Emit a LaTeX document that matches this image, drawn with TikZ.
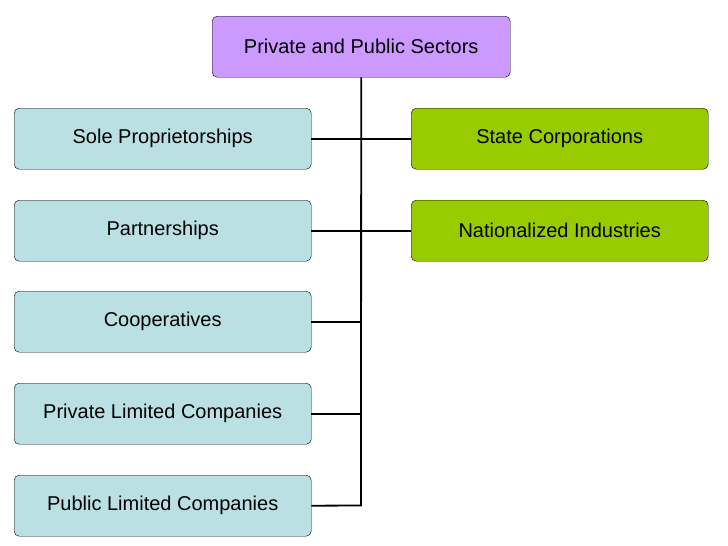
\documentclass[tikz,border=0pt]{standalone}
\usepackage{fontspec}
\setmainfont{Liberation Sans}
\definecolor{purp}{HTML}{CC99FF}
\definecolor{cyanb}{HTML}{BBE0E3}
\definecolor{grn}{HTML}{99CC00}
\begin{document}
\begin{tikzpicture}[x=1pt,y=-1pt,
 box/.style={draw=black,rounded corners=5pt,minimum width=297pt,minimum height=61pt,inner sep=0pt,font=\fontsize{20}{24}\selectfont,anchor=north west},
 conn/.style={line width=1.8pt}]
\useasboundingbox[fill=white] (0,0) rectangle (728,546);
\node[box,fill=purp,minimum width=298pt] (top) at (212,16) {Private and Public Sectors};
\node[box,fill=cyanb] (a) at (14,108) {Sole Proprietorships};
\node[box,fill=cyanb] (b) at (14,200) {Partnerships};
\node[box,fill=cyanb] (c) at (14,291) {Cooperatives};
\node[box,fill=cyanb] (d) at (14,383) {Private Limited Companies};
\node[box,fill=cyanb] (e) at (14,475) {Public Limited Companies};
\node[box,fill=grn] (f) at (411,108) {State Corporations};
\node[box,fill=grn] (g) at (411,200) {Nationalized Industries};
\coordinate (bot) at (361,505.5);
\draw[conn] (top.south) -- (bot) -- (e.east);
\foreach \n in {a,b,c,d} \draw[conn] (\n.east) -- (\n.east -| bot);
\foreach \n in {f,g} \draw[conn] (\n.west) -- (\n.west -| bot);
\end{tikzpicture}
\end{document}
